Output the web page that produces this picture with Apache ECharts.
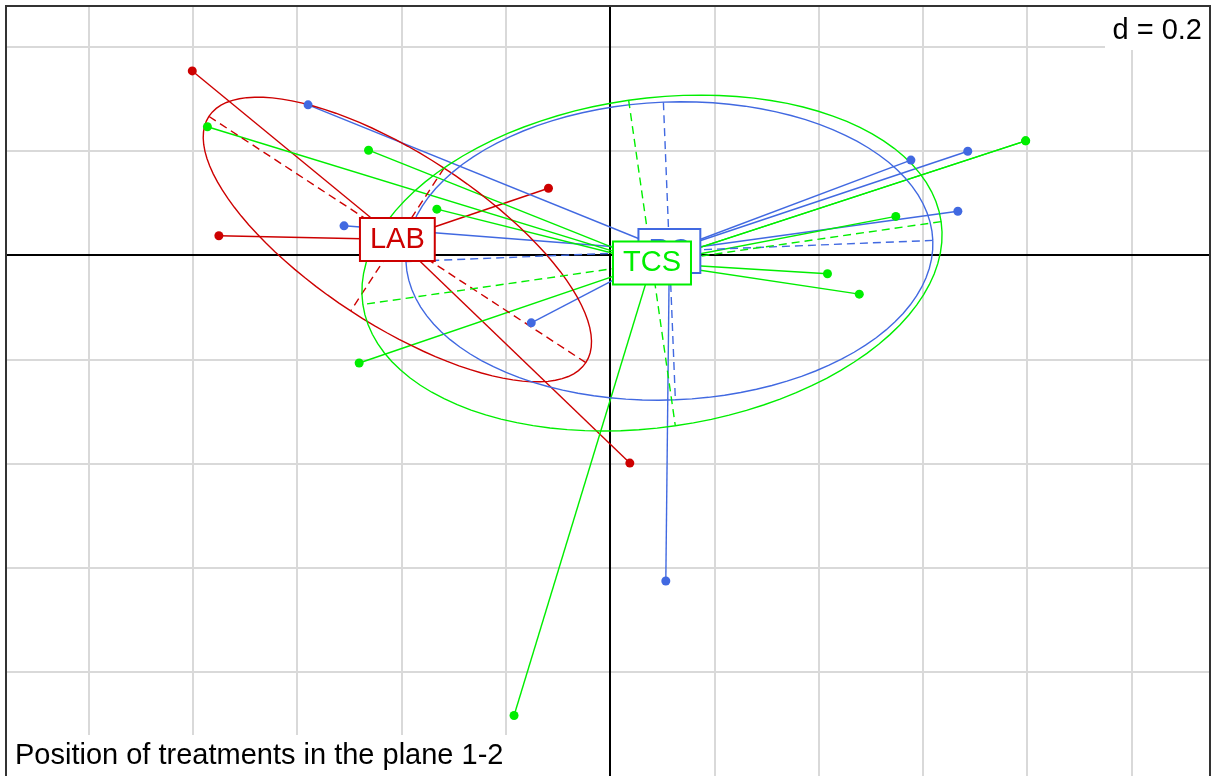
<!DOCTYPE html>
<html>
<head>
<meta charset="utf-8">
<script src="https://cdn.jsdelivr.net/npm/echarts@6/dist/echarts.min.js"></script>
<style>
  html, body { margin: 0; padding: 0; background: #fff; }
  #chart { width: 1213px; height: 776px; }
</style>
</head>
<body>
<div id="chart"></div>
<script>
// Row scores of each treatment on factorial axes 1 (x) and 2 (y)
const classNames = ['LAB', 'RC', 'TCS'];
const classColors = ['#cd0000', '#4169e1', '#00ee00'];

const labX = [-0.801, -0.750, -0.118, 0.038];
const labY = [0.353, 0.037, 0.128, -0.399];

const rcX = [-0.579, -0.510, -0.151, 0.107, 0.577, 0.686, 0.667];
const rcY = [0.288, 0.056, -0.130, -0.625, 0.182, 0.199, 0.084];

const tcsX = [-0.772, -0.463, -0.332, -0.481, -0.184, 0.797, 0.797, 0.548, 0.417, 0.478];
const tcsY = [0.246, 0.201, 0.088, -0.207, -0.883, 0.219, 0.219, 0.074, -0.036, -0.075];

// grid positions, step d = 0.2
const xGridTicks = [-1.0, -0.8, -0.6, -0.4, -0.2, 0.2, 0.4, 0.6, 0.8, 1.0];
const yGridTicks = [-0.8, -0.6, -0.4, -0.2, 0.2, 0.4];

const gridStepLabel = 'd = 0.2';
const subtitle = 'Position of treatments in the plane 1-2';

// visible window (same scale on both axes)
const xMin = -1.1582, xMax = 1.1505;
const yMax = 0.4775, yMin = -0.9990;

const groups = [
  { name: classNames[0], color: classColors[0], xs: labX, ys: labY },
  { name: classNames[1], color: classColors[1], xs: rcX, ys: rcY },
  { name: classNames[2], color: classColors[2], xs: tcsX, ys: tcsY }
];

// inertia ellipse of a group (mean, variances, covariance with uniform weights)
function inertiaEllipse(xs, ys, coeff) {
  const n = xs.length;
  const mx = xs.reduce((a, b) => a + b, 0) / n;
  const my = ys.reduce((a, b) => a + b, 0) / n;
  let vx = 0, vy = 0, cxy = 0;
  for (let i = 0; i < n; i++) {
    vx += (xs[i] - mx) * (xs[i] - mx);
    vy += (ys[i] - my) * (ys[i] - my);
    cxy += (xs[i] - mx) * (ys[i] - my);
  }
  vx /= n; vy /= n; cxy /= n;
  const delta = Math.sqrt((vx - vy) * (vx - vy) + 4 * cxy * cxy);
  let l1 = (vx + vy + delta) / 2;
  let l2 = vx + vy - l1;
  l1 = Math.sqrt(Math.max(l1, 0));
  l2 = Math.sqrt(Math.max(l2, 0));
  let a0, b0;
  if (Math.abs(cxy) < 1e-10) {
    if (vx > vy) { a0 = 1; b0 = 0; } else { a0 = 0; b0 = 1; }
  } else {
    a0 = 1;
    b0 = (l1 * l1 - vx) / cxy;
    const nrm = Math.sqrt(a0 * a0 + b0 * b0);
    a0 /= nrm; b0 /= nrm;
  }
  const c11 = coeff * a0 * l1, c12 = -coeff * b0 * l2;
  const c21 = coeff * b0 * l1, c22 = coeff * a0 * l2;
  const path = [];
  const steps = 100;
  for (let i = 0; i <= steps; i++) {
    const t = 2 * Math.PI * i / steps;
    path.push([mx + c11 * Math.cos(t) + c12 * Math.sin(t),
               my + c21 * Math.cos(t) + c22 * Math.sin(t)]);
  }
  return {
    center: [mx, my],
    path: path,
    seg1: [[mx + c11, my + c21], [mx - c11, my - c21]],
    seg2: [[mx + c12, my + c22], [mx - c12, my - c22]]
  };
}

const FONT = "'Liberation Sans', Arial, sans-serif";
const LW = 1.4;
const series = [];

// background grid and the two factorial axes
series.push({
  type: 'lines', coordinateSystem: 'cartesian2d', silent: true, z: 1,
  lineStyle: { color: '#d9d9d9', width: 2, opacity: 1 },
  data: xGridTicks.map(v => ({ coords: [[v, yMin], [v, yMax]] }))
    .concat(yGridTicks.map(v => ({ coords: [[xMin, v], [xMax, v]] })))
});
series.push({
  type: 'lines', coordinateSystem: 'cartesian2d', silent: true, z: 2,
  lineStyle: { color: '#000', width: 2, opacity: 1 },
  data: [{ coords: [[0, yMin], [0, yMax]] }, { coords: [[xMin, 0], [xMax, 0]] }]
});

const ells = groups.map(g => inertiaEllipse(g.xs, g.ys, 1));

// stars: each point linked to its group centre
groups.forEach((g, k) => {
  const c = ells[k].center;
  series.push({
    type: 'lines', coordinateSystem: 'cartesian2d', silent: true, z: 3,
    lineStyle: { color: g.color, width: LW, opacity: 1 },
    data: g.xs.map((x, i) => ({ coords: [c, [x, g.ys[i]]] }))
  });
});

// ellipses and their dashed principal axes
groups.forEach((g, k) => {
  const e = ells[k];
  series.push({
    type: 'lines', coordinateSystem: 'cartesian2d', polyline: true, silent: true, z: 4,
    lineStyle: { color: g.color, width: LW, opacity: 1 },
    data: [{ coords: e.path }]
  });
  series.push({
    type: 'lines', coordinateSystem: 'cartesian2d', silent: true, z: 4,
    lineStyle: { color: g.color, width: LW, opacity: 1, type: [8, 5] },
    data: [{ coords: e.seg1 }, { coords: e.seg2 }]
  });
});

// points
groups.forEach(g => {
  series.push({
    type: 'scatter', silent: true, z: 5,
    symbol: 'circle', symbolSize: 9,
    itemStyle: { color: g.color, opacity: 1 },
    data: g.xs.map((x, i) => [x, g.ys[i]])
  });
});

// group labels at the centres
groups.forEach((g, k) => {
  series.push({
    type: 'scatter', silent: true, z: 6 + k,
    symbolSize: 0,
    itemStyle: { color: g.color, opacity: 1 },
    data: [{ value: ells[k].center, name: g.name }],
    label: {
      show: true, position: 'inside', formatter: '{b}',
      fontFamily: FONT, fontSize: 29, lineHeight: 29,
      color: g.color, backgroundColor: '#fff',
      borderColor: g.color, borderWidth: 2,
      padding: k === 1 ? [13, 9, 0, 9] : [6, 9]
    }
  });
});

const chart = echarts.init(document.getElementById('chart'), null, { renderer: 'canvas' });
chart.setOption({
  animation: false,
  backgroundColor: '#fff',
  grid: { left: 6, right: 3, top: 6, bottom: 0, show: false },
  xAxis: {
    type: 'value', min: xMin, max: xMax,
    axisLine: { show: false }, axisTick: { show: false },
    axisLabel: { show: false }, splitLine: { show: false }
  },
  yAxis: {
    type: 'value', min: yMin, max: yMax,
    axisLine: { show: false }, axisTick: { show: false },
    axisLabel: { show: false }, splitLine: { show: false }
  },
  series: series,
  graphic: [
    // plot frame (its lower edge lies below the visible area)
    { type: 'polyline', z: 90, silent: true,
      shape: { points: [[6, 776], [6, 6], [1210, 6], [1210, 776]] },
      style: { stroke: '#333', lineWidth: 2, fill: null } },
    { type: 'rect', z: 100, shape: { x: 1105, y: 7, width: 104, height: 43 }, style: { fill: '#fff' } },
    { type: 'text', z: 101, x: 1202, y: 31,
      style: { text: gridStepLabel, font: '29px ' + FONT, fill: '#000', align: 'right', verticalAlign: 'middle' } },
    { type: 'rect', z: 100, shape: { x: 7, y: 735, width: 507, height: 45 }, style: { fill: '#fff' } },
    { type: 'text', z: 101, x: 15, y: 756,
      style: { text: subtitle, font: '29px ' + FONT, fill: '#000', align: 'left', verticalAlign: 'middle' } }
  ]
});
</script>
</body>
</html>
